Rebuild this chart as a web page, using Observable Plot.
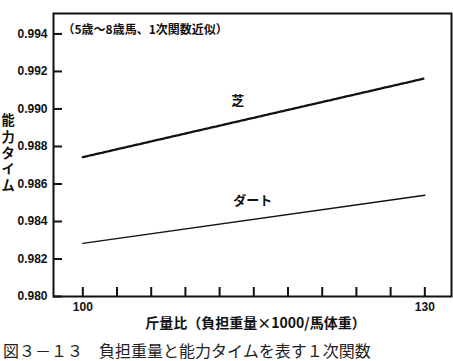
<!DOCTYPE html>
<html><head><meta charset="utf-8">
<script src="https://cdn.jsdelivr.net/npm/d3@7"></script>
<script src="https://cdn.jsdelivr.net/npm/@observablehq/plot@0.6"></script>
<style>
body{margin:0;background:#fff;}
#chart svg{display:block;}
#cap{font-family:"Noto Sans CJK JP";font-size:16px;line-height:18px;margin-left:3px;margin-top:1px;color:#222;white-space:pre;}
</style></head><body><div id="chart"></div><div id="cap"></div>
<script>
// data
const loadRatio = [100, 130];
const turfTime = [0.98743, 0.99163];
const dirtTime = [0.98283, 0.98540];
const seriesNames = ["芝", "ダート"];
const seriesLabelX = [113.6, 114.9];
const seriesLabelY = [0.99041, 0.98508];
const yTicks = [0.980, 0.982, 0.984, 0.986, 0.988, 0.990, 0.992, 0.994];
const xTicks = [100, 103, 106, 109, 112, 115, 118, 121, 124, 127, 130];
const xTickLabels = [100, 130];
const note = "（5歳～8歳馬、1次関数近似）";
const yLabel = "能力タイム";
const xLabel = "斤量比（負担重量×1000/馬体重）";
const caption = "図３－１３　負担重量と能力タイムを表す１次関数";

const turf = loadRatio.map((x, i) => ({x, y: turfTime[i]}));
const dirt = loadRatio.map((x, i) => ({x, y: dirtTime[i]}));
const labels = seriesNames.map((t, i) => ({t, x: seriesLabelX[i], y: seriesLabelY[i]}));

const W = 453, H = 340, mT = 13, mB = 44, mL = 53, mR = 2;
const innerW = W - mL - mR, innerH = H - mT - mB;
const jp = "Noto Sans CJK JP";

const chart = Plot.plot({
  width: W, height: H,
  marginTop: mT, marginBottom: mB, marginLeft: mL, marginRight: mR,
  style: {background: "#fff", color: "#111"},
  x: {domain: [97.43, 132.34]},
  y: {domain: [0.980, 0.99509]},
  marks: [
    Plot.axisY(yTicks, {tickSize: 0, tickPadding: 6, tickFormat: d3.format(".3f"), label: null,
      fontSize: 12, fontWeight: "bold", fontFamily: "Liberation Sans", fill: "#111"}),
    Plot.axisX(xTickLabels, {tickSize: 0, tickPadding: 6, tickFormat: d => String(d), label: null,
      fontSize: 12, fontWeight: "bold", fontFamily: "Liberation Sans", fill: "#111"}),
    Plot.tickX(xTicks, {x: d => d, insetTop: innerH - 9, stroke: "#111", strokeWidth: 2}),
    Plot.tickY(yTicks, {y: d => d, insetRight: innerW - 9, stroke: "#111", strokeWidth: 2}),
    Plot.line(turf, {x: "x", y: "y", stroke: "#111", strokeWidth: 2.3, strokeDasharray: "5,1.5"}),
    Plot.line(dirt, {x: "x", y: "y", stroke: "#111", strokeWidth: 1.4}),
    Plot.text(labels, {x: "x", y: "y", text: "t", fontSize: 13, fontWeight: "bold", fontFamily: jp, fill: "#111"}),
    Plot.text([note], {text: d => d, frameAnchor: "top-left", textAnchor: "start", dx: 9, dy: 12,
      fontSize: 12, fontWeight: "bold", fontFamily: jp, fill: "#111"}),
    Plot.text([yLabel], {text: d => d.split("").join("\n"), frameAnchor: "left", textAnchor: "middle",
      dx: -45.5, dy: -2.5, lineHeight: 1.22, fontSize: 13.2, fontWeight: "bold", fontFamily: jp, fill: "#111"}),
    Plot.text([xLabel], {text: d => d, frameAnchor: "bottom", dy: 31, dx: 3,
      fontSize: 14, fontWeight: "bold", fontFamily: jp, fill: "#111"}),
    Plot.frame({stroke: "#111", strokeWidth: 2})
  ]
});
document.getElementById("chart").append(chart);
document.getElementById("cap").textContent = caption;
</script></body></html>
